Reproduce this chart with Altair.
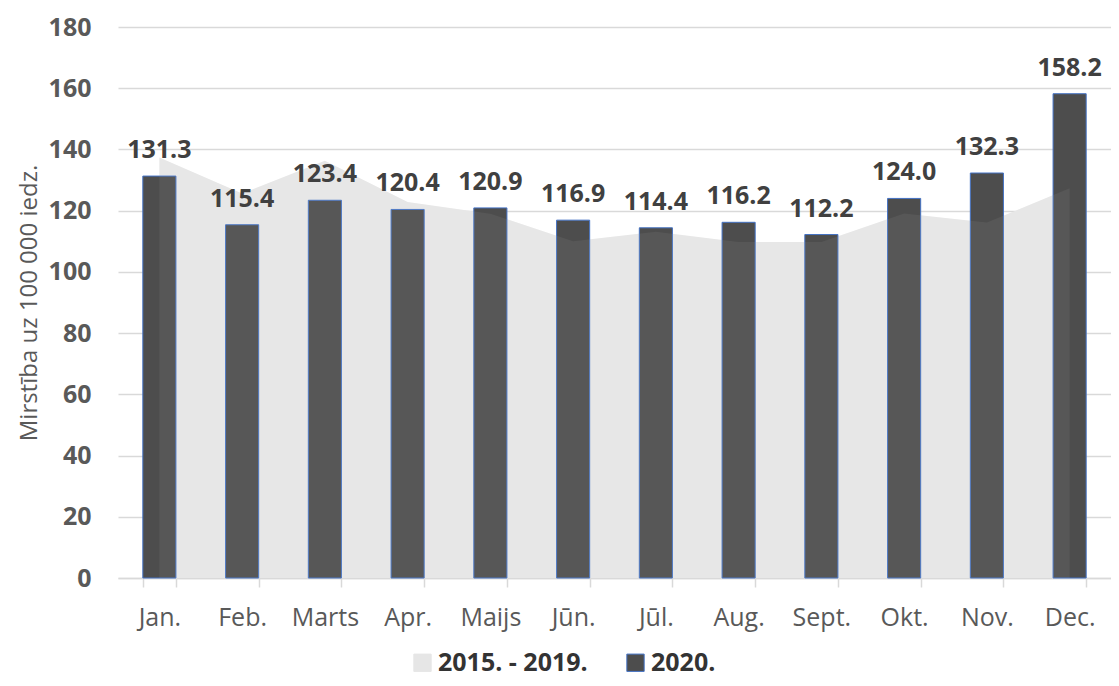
import altair as alt
import pandas as pd

months = ["Jan.", "Feb.", "Marts", "Apr.", "Maijs", "Jūn.", "Jūl.", "Aug.", "Sept.", "Okt.", "Nov.", "Dec."]
avg_2015_2019 = [137.4, 125.6, 136.3, 122.8, 119.0, 110.0, 113.1, 109.8, 109.8, 119.1, 116.1, 127.3]
rate_2020 = [131.3, 115.4, 123.4, 120.4, 120.9, 116.9, 114.4, 116.2, 112.2, 124.0, 132.3, 158.2]
series_names = ["2015. - 2019.", "2020."]
y_ticks = [0, 20, 40, 60, 80, 100, 120, 140, 160, 180]

bar_df = pd.DataFrame({"month": months, "value": rate_2020, "series": series_names[1]})
area_df = pd.DataFrame({"month": months, "value": avg_2015_2019, "series": series_names[0]})

W, H = 993, 551
FONT = "Open Sans"
GRID = "#d9d9d9"

x_enc = alt.X(
    "month:N", sort=months,
    scale=alt.Scale(paddingInner=0.6, paddingOuter=0.3),
    axis=alt.Axis(title=None, tickBand="extent", labelFont=FONT, labelFontSize=25,
                  labelColor="#595959", labelAngle=0, domainColor=GRID, tickColor=GRID,
                  tickSize=9, labelPadding=18, grid=False, domainWidth=1.5, tickWidth=1.5),
)
y_enc = alt.Y(
    "value:Q",
    scale=alt.Scale(domain=[0, 180], nice=False),
    axis=alt.Axis(values=y_ticks, title="Mirstība uz 100 000 iedz.", titleFont=FONT,
                  titleFontSize=24, titleFontWeight="normal", titleColor="#595959",
                  titleAngle=-90, titleX=-82, titleY=H / 2, titleAlign="center",
                  titleBaseline="alphabetic", labelFont=FONT, labelFontSize=25,
                  labelFontWeight="bold", labelColor="#595959", labelPadding=27,
                  ticks=False, tickSize=0, domain=False, grid=True, gridColor=GRID,
                  gridWidth=1.5),
)

legend_kw = dict(title=None, orient="none", legendX=292, legendY=623, direction="horizontal",
                 symbolType="square", symbolSize=300, labelFont=FONT, labelFontSize=25,
                 labelFontWeight="bold", labelColor="#333333", labelOffset=3,
                 columnPadding=35, padding=0, symbolStrokeWidth=1, symbolOpacity=1)

color_enc = alt.Color("series:N", scale=alt.Scale(domain=series_names, range=["#e6e6e6", "#4d4d4d"]),
                      legend=alt.Legend(**legend_kw))
stroke_enc = alt.Stroke("series:N", scale=alt.Scale(domain=series_names, range=["#e6e6e6", "#4472c4"]),
                        legend=alt.Legend(**legend_kw))

area = alt.Chart(area_df).mark_area(opacity=1).encode(x=x_enc, y=y_enc, color=color_enc)
bars = alt.Chart(bar_df).mark_bar(strokeWidth=1, opacity=1).encode(
    x=x_enc, y=y_enc, color=color_enc, stroke=stroke_enc)
overlay = alt.Chart(area_df).mark_area(fill="white", opacity=0.06).encode(x=x_enc, y=y_enc)
labels = alt.Chart(bar_df).mark_text(dy=-18, baseline="alphabetic", font=FONT, fontSize=25,
                                     fontWeight="bold", color="#404040").encode(
    x=x_enc, y=y_enc, text=alt.Text("value:Q", format=".1f"))

chart = alt.layer(area, bars, overlay, labels).properties(
    width=W, height=H,
    autosize=alt.AutoSizeParams(type="none"),
    padding={"left": 110, "top": 19, "right": 0, "bottom": 100},
    background="white",
).configure_view(stroke=None)

chart.save("out.html", embed_options={"renderer": "svg", "actions": False})
